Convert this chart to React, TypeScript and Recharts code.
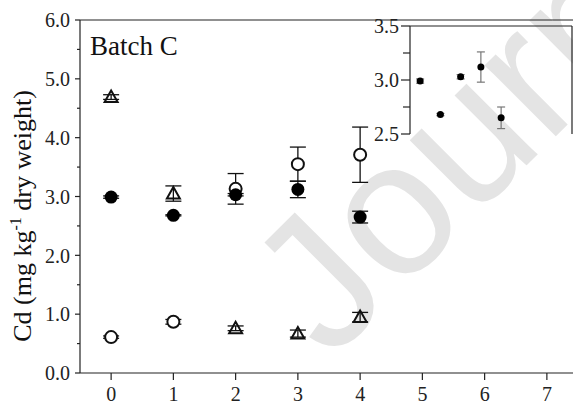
import React from "react";
import {
  ScatterChart,
  Scatter,
  XAxis,
  YAxis,
  ErrorBar,
  ReferenceLine,
} from "recharts";

// sampling days
const days = [0, 1, 2, 3, 4];

// filled circles (also shown in the inset)
const filledCd = [2.99, 2.68, 3.03, 3.12, 2.65];
const filledErr = [0.02, 0.01, 0.02, 0.14, 0.1];

// open circles
const openCd = [0.61, 0.87, 3.13, 3.55, 3.71];
const openErr = [0.02, 0.04, 0.26, 0.29, 0.47];

// open triangles
const triCd = [4.69, 3.05, 0.76, 0.67, 0.95];
const triErr = [0.04, 0.13, 0.04, 0.06, 0.08];

const xTicks = [0, 1, 2, 3, 4, 5, 6, 7];
const yTicks = [0, 0.5, 1, 1.5, 2, 2.5, 3, 3.5, 4, 4.5, 5, 5.5, 6];
const insetTicks = [2.5, 2.75, 3, 3.25, 3.5];

const serif = '"Liberation Serif", "Times New Roman", serif';
const ink = "#222";

const toRows = (ys: number[], errs: number[]) =>
  days.map((d, i) => ({ x: d, y: ys[i], err: errs[i] }));

const filledRows = toRows(filledCd, filledErr);
const openRows = toRows(openCd, openErr);
const triRows = toRows(triCd, triErr);

// y tick with long/short marks; labels only on the major values
function makeYTick(majorLen: number, minorLen: number, gap: number, majorEvery: number) {
  return (props: any) => {
    const { x, y, payload } = props;
    const v = payload.value as number;
    const major = Math.abs(v / majorEvery - Math.round(v / majorEvery)) < 1e-6;
    return (
      <g>
        <line
          x1={x - (major ? majorLen : minorLen)}
          x2={x}
          y1={y}
          y2={y}
          stroke={ink}
          strokeWidth={1.2}
        />
        {major && (
          <text
            x={x - gap}
            y={y}
            dy="0.36em"
            textAnchor="end"
            fontFamily={serif}
            fontSize={20}
            fill={ink}
          >
            {v.toFixed(1)}
          </text>
        )}
      </g>
    );
  };
}

const MainYTick = makeYTick(5, 3, 10, 1);
const InsetYTick = makeYTick(9, 7, 11, 0.5);

const FilledDot = (r: number) => (props: any) =>
  <circle cx={props.cx} cy={props.cy} r={r} fill="#000" />;

const OpenDot = (props: any) => (
  <circle cx={props.cx} cy={props.cy} r={6} fill="#fff" stroke="#111" strokeWidth={2} />
);

const OpenTri = (props: any) => {
  const { cx, cy } = props;
  return (
    <polygon
      points={`${cx},${cy - 6.5} ${cx - 6.5},${cy + 5} ${cx + 6.5},${cy + 5}`}
      fill="none"
      stroke="#111"
      strokeWidth={2}
    />
  );
};

export default function App() {
  return (
    <div
      style={{
        position: "fixed",
        left: 0,
        top: 0,
        width: 573,
        height: 406,
        overflow: "hidden",
        background: "#fff",
      }}
    >
      {/* watermark and titles */}
      <svg width={573} height={406} style={{ position: "absolute", left: 0, top: 0 }}>
        <text
          transform="translate(330,362) rotate(-45)"
          fontFamily='"Liberation Sans", Arial, sans-serif'
          fontSize={190}
          fill="#e4e4e4"
        >
          Journal Pre-proof
        </text>
        <text x={90} y={55} fontFamily={serif} fontSize={27} fill="#111">
          Batch C
        </text>
        <text
          transform="translate(31,216) rotate(-90)"
          textAnchor="middle"
          fontFamily={serif}
          fontSize={26}
          fill="#111"
        >
          Cd (mg kg
          <tspan fontSize={16} dy={-10}>
            -1
          </tspan>
          <tspan dy={10}> dry weight)</tspan>
        </text>
      </svg>

      {/* main chart */}
      <div style={{ position: "absolute", left: 0, top: 0 }}>
        <ScatterChart
          width={600}
          height={406}
          margin={{ top: 20, right: 22, bottom: 0, left: 0 }}
        >
          <XAxis
            type="number"
            dataKey="x"
            domain={[-0.5, 7.5]}
            ticks={xTicks}
            allowDataOverflow
            height={33}
            tickSize={7}
            tickMargin={7}
            stroke={ink}
            strokeWidth={1.2}
            tick={{ fontFamily: serif, fontSize: 20, fill: ink }}
          />
          <YAxis
            type="number"
            dataKey="y"
            domain={[0, 6]}
            ticks={yTicks}
            allowDataOverflow
            width={80}
            tickSize={0}
            tickMargin={0}
            tickLine={false}
            stroke={ink}
            strokeWidth={1.2}
            tick={MainYTick}
            interval={0}
          />
          <ReferenceLine y={6} stroke={ink} strokeWidth={1.2} />
          <Scatter data={triRows} shape={OpenTri} isAnimationActive={false}>
            <ErrorBar dataKey="err" direction="y" width={8} stroke="#111" strokeWidth={1.3} isAnimationActive={false} />
          </Scatter>
          <Scatter data={openRows} shape={OpenDot} isAnimationActive={false}>
            <ErrorBar dataKey="err" direction="y" width={8} stroke="#111" strokeWidth={1.3} isAnimationActive={false} />
          </Scatter>
          <Scatter data={filledRows} shape={FilledDot(6.5)} isAnimationActive={false}>
            <ErrorBar dataKey="err" direction="y" width={8} stroke="#111" strokeWidth={1.3} isAnimationActive={false} />
          </Scatter>
        </ScatterChart>
      </div>

      {/* inset: filled circles zoomed in */}
      <div style={{ position: "absolute", left: 360, top: 0 }}>
        <ScatterChart
          width={220}
          height={150}
          margin={{ top: 26, right: 8, bottom: 16, left: 0 }}
        >
          <XAxis
            type="number"
            dataKey="x"
            domain={[-0.5, 7.5]}
            ticks={xTicks}
            allowDataOverflow
            height={0}
            tick={false}
            tickLine={false}
            stroke={ink}
            strokeWidth={1.2}
          />
          <YAxis
            type="number"
            dataKey="y"
            domain={[2.5, 3.5]}
            ticks={insetTicks}
            allowDataOverflow
            width={50}
            tickSize={0}
            tickMargin={0}
            tickLine={false}
            stroke={ink}
            strokeWidth={1.2}
            tick={InsetYTick}
            interval={0}
          />
          <ReferenceLine y={3.5} stroke={ink} strokeWidth={1.2} />
          <ReferenceLine x={7.5} stroke={ink} strokeWidth={1.2} />
          <Scatter data={filledRows} shape={FilledDot(3.5)} isAnimationActive={false}>
            <ErrorBar dataKey="err" direction="y" width={4} stroke="#777" strokeWidth={1.2} isAnimationActive={false} />
          </Scatter>
        </ScatterChart>
      </div>
    </div>
  );
}
